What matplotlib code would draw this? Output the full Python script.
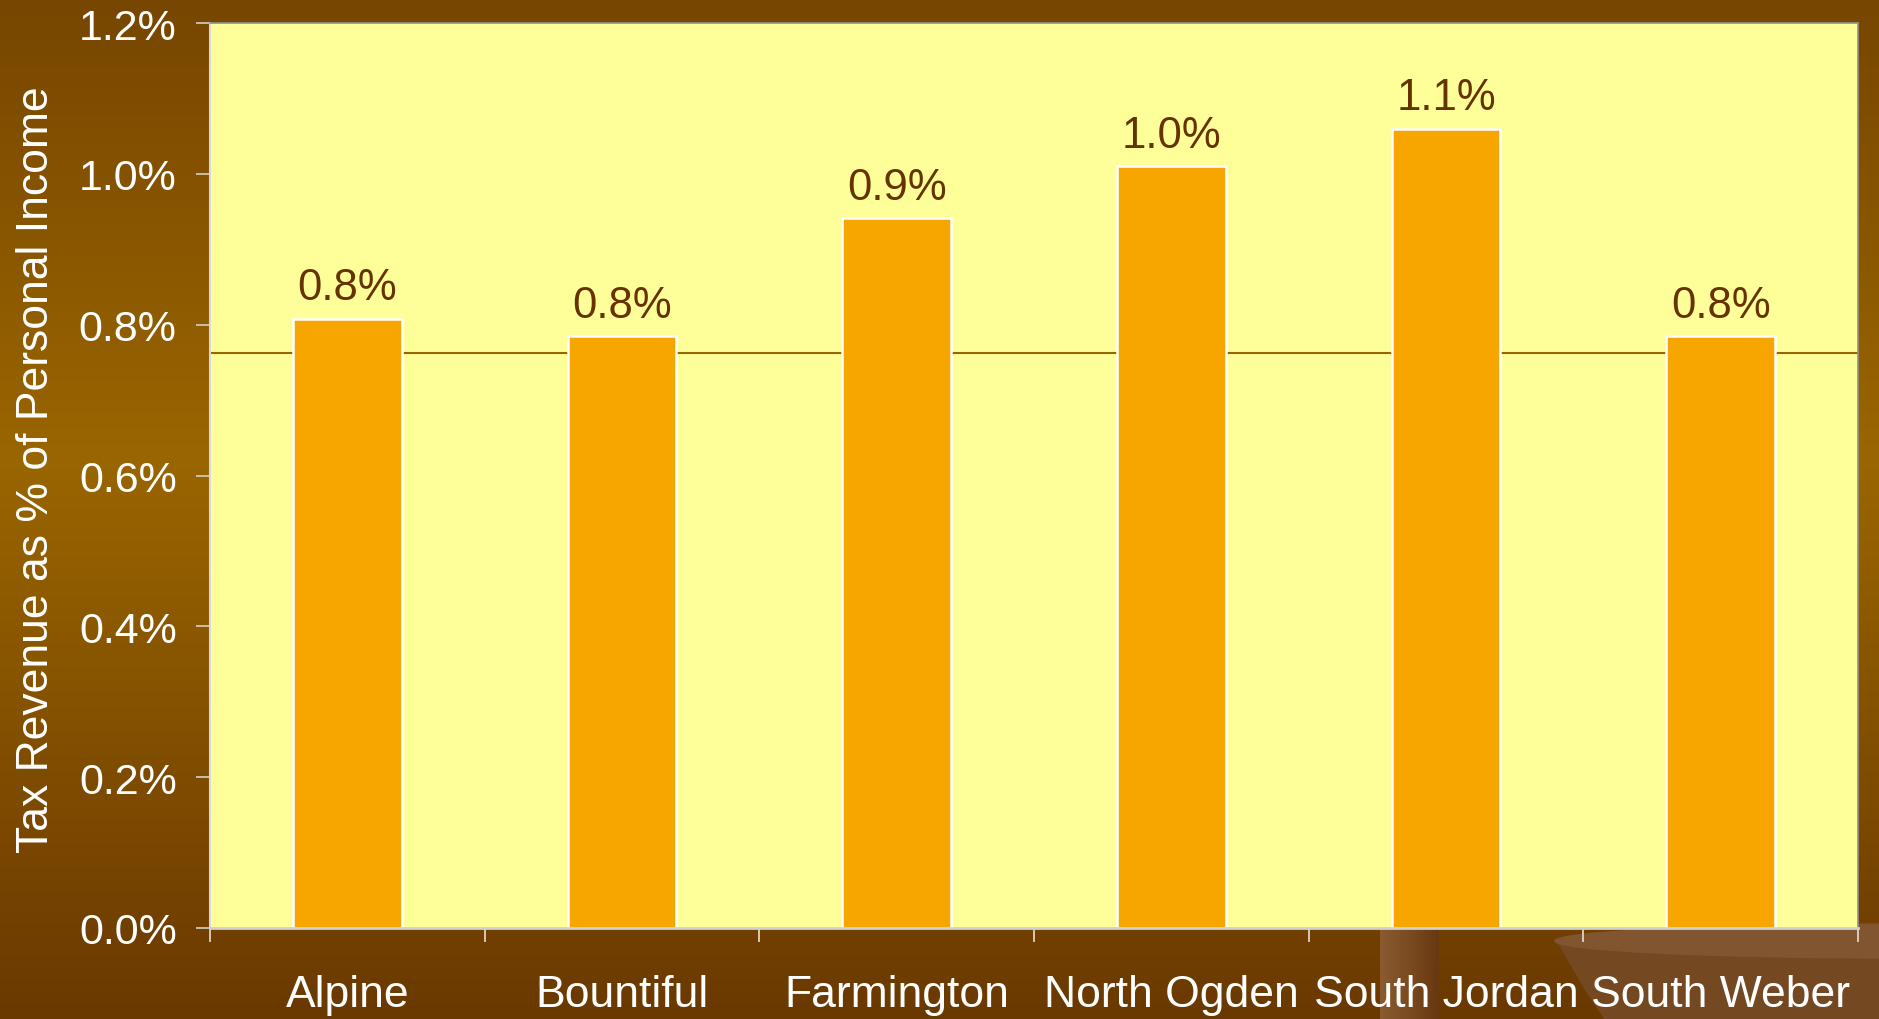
import numpy as np
import matplotlib
matplotlib.use("Agg")
import matplotlib.pyplot as plt
from matplotlib.ticker import FuncFormatter, FixedLocator
from matplotlib.colors import LinearSegmentedColormap
from matplotlib.patches import Ellipse, Polygon

plt.rcParams['font.family'] = ['Liberation Sans', 'DejaVu Sans']

categories = ["Alpine", "Bountiful", "Farmington", "North Ogden", "South Jordan", "South Weber"]
values = [0.808, 0.785, 0.941, 1.010, 1.060, 0.785]   # % of personal income
labels = ["0.8%", "0.8%", "0.9%", "1.0%", "1.1%", "0.8%"]
reference_value = 0.763
y_ticks = [0.0, 0.2, 0.4, 0.6, 0.8, 1.0, 1.2]

W, H = 1879, 1020
fig = plt.figure(figsize=(W / 100, H / 100), dpi=100)

# background gradient
bg = fig.add_axes([0, 0, 1, 1], zorder=-10)
bg.set_axis_off()
cmap = LinearSegmentedColormap.from_list(
    "bgbrown", [(0.0, "#774600"), (0.45, "#9A6600"), (1.0, "#6A3900")])
grad = np.linspace(0, 1, 256).reshape(-1, 1)
bg.imshow(grad, aspect="auto", cmap=cmap, extent=[0, 1, 0, 1], origin="upper")
bg.set_xlim(0, 1)
bg.set_ylim(0, 1)
# faint decorative pillar and bowl (template background)
pill_cmap = LinearSegmentedColormap.from_list("pill", ["#8A5A30", "#7A4A20", "#683810"])
bg.imshow(np.linspace(0, 1, 64).reshape(1, -1), aspect="auto", cmap=pill_cmap,
          extent=[1380 / W, 1439 / W, 0, 95 / H], zorder=1)
bg.add_patch(Polygon([(1556 / W, 1 - 940 / H), (1585 / W, 1 - 990 / H), (1605 / W, 0),
                      (1, 0), (1, 1 - 940 / H)], closed=True, color="#744820", zorder=1))
bg.add_patch(Ellipse((1900 / W, 1 - 942 / H), 690 / W, 34 / H, color="#805530", zorder=2))

ax = fig.add_axes([210 / W, 1 - 929 / H, (1858 - 210) / W, (929 - 24) / H])
ax.set_facecolor("#FFFF99")

x = np.arange(len(categories))
ax.axhline(reference_value, color="#996600", lw=1.5, zorder=1)
bars = ax.bar(x, values, width=0.395, color="#F7A600", edgecolor="white",
              linewidth=1.8, zorder=2)
for xi, v, lab in zip(x, values, labels):
    ax.annotate(lab, (xi, v), xytext=(0, 14), textcoords="offset points",
                ha="center", va="baseline", fontsize=31.5, color="#663300", zorder=3)

ax.set_xlim(-0.5, len(categories) - 0.5)
ax.set_ylim(0, 1.2)
ax.yaxis.set_major_locator(FixedLocator(y_ticks))
ax.yaxis.set_major_formatter(FuncFormatter(lambda v, p: f"{v:.1f}%"))
ax.set_xticks(x)
ax.set_xticklabels(categories)
ax.set_xticks(np.arange(-0.5, len(categories), 1.0), minor=True)

ax.tick_params(axis="y", which="major", direction="out", length=10, width=1.2,
               color="#D8D0C0", labelsize=31, labelcolor="white", pad=14)
ax.tick_params(axis="x", which="major", length=0, labelsize=32, labelcolor="white", pad=33)
ax.tick_params(axis="x", which="minor", direction="out", length=10, width=1.2, color="#E8E0D0")

ax.spines["left"].set_color("#D8D8D8")
ax.spines["left"].set_linewidth(1.5)
ax.spines["bottom"].set_color("#D0D0D0")
ax.spines["bottom"].set_linewidth(2)
for s in ["top", "right"]:
    ax.spines[s].set_color("#909090")
    ax.spines[s].set_linewidth(1.2)

fig.text(37 / W, 1 - 470 / H, "Tax Revenue as % of Personal Income", rotation=90,
         ha="center", va="center", fontsize=32, color="white")

fig.savefig("out.png", dpi=100)
